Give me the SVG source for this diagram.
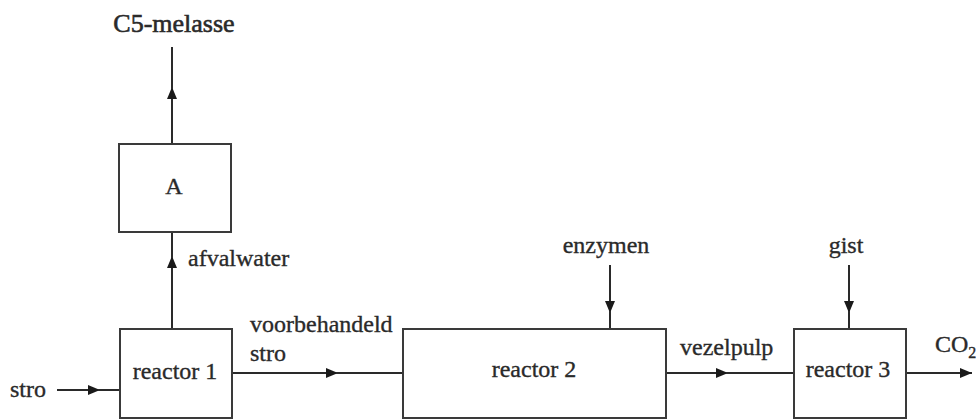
<svg xmlns="http://www.w3.org/2000/svg" width="976" height="419" viewBox="0 0 976 419">
  <defs>
    <style>
      .box { fill: #ffffff; stroke: #3a3a3a; stroke-width: 2; }
      .flow { fill: none; stroke: #2a2a2a; stroke-width: 2; }
      .lbl { font-family: "Liberation Serif", "Times New Roman", serif; font-size: 24px; fill: #2a2a2a; stroke: #2a2a2a; stroke-width: 0.35; }
      .big { font-size: 26px; stroke-width: 0.6; }
    </style>
    <marker id="arrow" viewBox="0 0 12 10" refX="12" refY="5" markerWidth="12" markerHeight="10" markerUnits="userSpaceOnUse" orient="auto">
      <path d="M0,0 L12,5 L0,10 Z" fill="#1a1a1a"/>
    </marker>
  </defs>

  <rect width="976" height="419" fill="#ffffff"/>

  <!-- connectors -->
  <g id="connectors">
    <!-- stro into reactor 1 -->
    <line class="flow" x1="57" y1="390" x2="100" y2="390" marker-end="url(#arrow)"/>
    <line class="flow" x1="98" y1="390" x2="120" y2="390"/>
    <!-- afvalwater: reactor 1 up to A -->
    <line class="flow" x1="172" y1="329" x2="172" y2="256" marker-end="url(#arrow)"/>
    <line class="flow" x1="172" y1="258" x2="172" y2="232"/>
    <!-- C5-melasse out of A -->
    <line class="flow" x1="172" y1="144" x2="172" y2="87" marker-end="url(#arrow)"/>
    <line class="flow" x1="172" y1="89" x2="172" y2="47"/>
    <!-- voorbehandeld stro: reactor 1 to reactor 2 -->
    <line class="flow" x1="232" y1="373" x2="338" y2="373" marker-end="url(#arrow)"/>
    <line class="flow" x1="336" y1="373" x2="403" y2="373"/>
    <!-- enzymen into reactor 2 -->
    <line class="flow" x1="610" y1="265" x2="610" y2="313" marker-end="url(#arrow)"/>
    <line class="flow" x1="610" y1="311" x2="610" y2="329"/>
    <!-- vezelpulp: reactor 2 to reactor 3 -->
    <line class="flow" x1="666" y1="373" x2="728" y2="373" marker-end="url(#arrow)"/>
    <line class="flow" x1="726" y1="373" x2="794" y2="373"/>
    <!-- gist into reactor 3 -->
    <line class="flow" x1="849" y1="265" x2="849" y2="313" marker-end="url(#arrow)"/>
    <line class="flow" x1="849" y1="311" x2="849" y2="329"/>
    <!-- CO2 out of reactor 3 -->
    <line class="flow" x1="906" y1="373" x2="972" y2="373" marker-end="url(#arrow)"/>
  </g>

  <!-- nodes -->
  <g id="node-A">
    <rect class="box" x="119" y="144" width="112" height="88"/>
    <text class="lbl" x="174" y="194" text-anchor="middle">A</text>
  </g>
  <g id="node-reactor1">
    <rect class="box" x="120" y="329" width="112" height="89"/>
    <text class="lbl" x="175" y="379" text-anchor="middle">reactor 1</text>
  </g>
  <g id="node-reactor2">
    <rect class="box" x="403" y="329" width="263" height="89"/>
    <text class="lbl" x="534" y="377" text-anchor="middle">reactor 2</text>
  </g>
  <g id="node-reactor3">
    <rect class="box" x="794" y="329" width="112" height="89"/>
    <text class="lbl" x="848" y="377" text-anchor="middle">reactor 3</text>
  </g>

  <!-- stream labels -->
  <g id="labels">
    <text class="lbl big" x="174" y="32" text-anchor="middle">C5-melasse</text>
    <text class="lbl" x="188" y="266">afvalwater</text>
    <text class="lbl" x="10" y="397">stro</text>
    <text class="lbl" x="250" y="332">voorbehandeld</text>
    <text class="lbl" x="250" y="361">stro</text>
    <text class="lbl" x="606" y="253" text-anchor="middle">enzymen</text>
    <text class="lbl" x="680" y="355">vezelpulp</text>
    <text class="lbl" x="846" y="253" text-anchor="middle">gist</text>
    <text class="lbl" x="935" y="352">CO<tspan font-size="16" dy="6">2</tspan></text>
  </g>
</svg>
